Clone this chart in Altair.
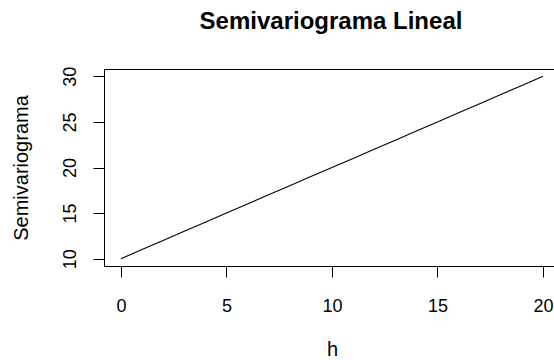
import altair as alt
import pandas as pd

h_values = [0, 1, 2, 3, 4, 5, 6, 7, 8, 9, 10, 11, 12, 13, 14, 15, 16, 17, 18, 19, 20]
semivariograma = [10, 11, 12, 13, 14, 15, 16, 17, 18, 19, 20, 21, 22, 23, 24, 25, 26, 27, 28, 29, 30]
x_ticks = [0, 5, 10, 15, 20]
y_ticks = [10, 15, 20, 25, 30]

df = pd.DataFrame({"h": h_values, "g": semivariograma})

FONT = "Liberation Sans"
xscale = alt.Scale(domain=[-0.8, 20.52], nice=False, zero=False)
yscale = alt.Scale(domain=[9.2, 30.8], nice=False, zero=False)

line = alt.Chart(df).mark_line(color="black", strokeWidth=1.1).encode(
    x=alt.X("h:Q", scale=xscale, axis=alt.Axis(
        values=x_ticks, grid=False, domainColor="black", tickColor="black",
        tickSize=11, labelFontSize=18, labelColor="black", labelFont=FONT,
        labelBaseline="alphabetic", labelPadding=34, labelFlush=False,
        title="h", titleFontSize=20, titleFont=FONT, titleFontWeight="normal",
        titleColor="black", titleBaseline="alphabetic", titleY=89, titleX=228)),
    y=alt.Y("g:Q", scale=yscale, axis=alt.Axis(
        values=y_ticks, grid=False, domainColor="black", tickColor="black",
        tickSize=11, labelFontSize=18, labelColor="black", labelFont=FONT,
        labelAngle=270, labelAlign="center", labelBaseline="alphabetic",
        labelPadding=18, labelFlush=False,
        title="Semivariograma", titleFontSize=20, titleFont=FONT,
        titleFontWeight="normal", titleColor="black", titleAngle=270,
        titleAlign="center", titleBaseline="alphabetic", titleX=-77, titleY=98.5)),
)

top = alt.Chart(df).mark_line(opacity=0).encode(
    x=alt.X("h:Q", scale=xscale, axis=alt.Axis(
        orient="top", labels=False, ticks=False, grid=False,
        domainColor="black", title=None)),
    y=alt.Y("g:Q", scale=yscale),
)

chart = alt.layer(line, top).resolve_axis(x="independent").properties(
    width=450, height=197,
    autosize=alt.AutoSizeParams(type="none"),
    padding={"left": 104, "top": 69, "right": 0, "bottom": 94},
    title=alt.TitleParams("Semivariograma Lineal", font=FONT, fontSize=24,
                          fontWeight="bold", color="black", anchor="middle",
                          frame="group", baseline="alphabetic", offset=13, dx=2),
).configure_view(stroke=None).configure(background="white")

chart.save("out.html", embed_options={"renderer": "svg", "actions": False})
